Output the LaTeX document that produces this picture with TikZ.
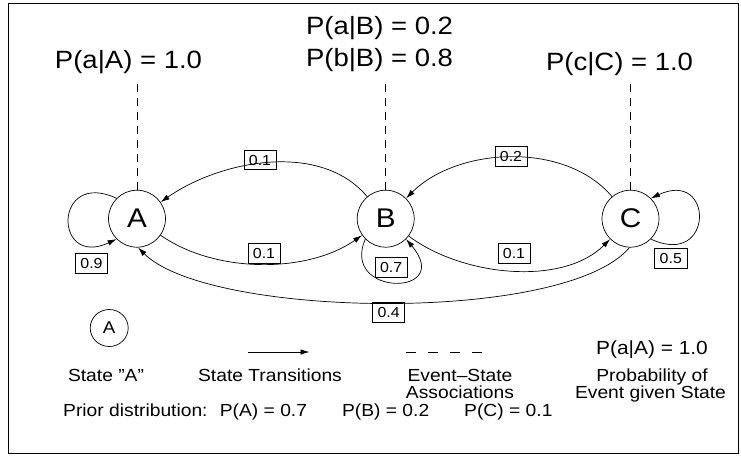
\documentclass[tikz,border=0pt]{standalone}
\usepackage{fontspec}
\setmainfont{Liberation Sans}[FakeStretch=1.1]
\usetikzlibrary{arrows.meta,shapes.geometric}
\begin{document}
\begin{tikzpicture}[x=1pt,y=-1pt,
  state/.style={circle,draw,line width=0.7pt,minimum size=57pt,inner sep=0pt,font=\fontsize{27}{27}\selectfont},
  legstate/.style={ellipse,draw,line width=0.7pt,minimum width=38pt,minimum height=37pt,inner sep=0pt,font=\fontsize{17}{17}\selectfont},
  prob/.style={draw,line width=0.6pt,inner xsep=5pt,inner ysep=4.5pt,text height=10.5pt,text depth=0pt,font=\fontsize{14.5}{14.5}\selectfont},
  biglabel/.style={anchor=base,inner sep=0pt,font=\fontsize{25}{25}\selectfont},
  leg/.style={anchor=base,inner sep=0pt,font=\fontsize{17.5}{17.5}\selectfont},
  trans/.style={line width=0.7pt,-{Latex[length=9pt,width=5.5pt]}},
  assoc/.style={line width=1pt,dash pattern=on 7.5pt off 6.5pt},
  legdash/.style={line width=1pt,dash pattern=on 10pt off 12pt}]
\useasboundingbox (0,0) rectangle (741,457);
\draw[line width=1pt] (8.7,4) rectangle (738.5,453.5);

% states
\node[state] (A) at (137,218.7) {A};
\node[state] (B) at (385.7,218.7) {B};
\node[state] (C) at (630.5,218.7) {C};

% event labels
\node[biglabel] (la) at (128.5,69) {P(a|A) = 1.0};
\node[biglabel] (lb1) at (379.5,35) {P(a|B) = 0.2};
\node[biglabel] (lb2) at (379.5,67) {P(b|B) = 0.8};
\node[biglabel] (lc) at (619.5,71) {P(c|C) = 1.0};
\coordinate (ta) at (137,83);
\coordinate (tb) at (385.7,83);
\coordinate (tc) at (630.5,83);
\draw[assoc] (A.north) -- (ta);
\draw[assoc] (B.north) -- (tb);
\draw[assoc] (C.north) -- (tc);

% transitions
\draw[trans] (B) to[out=130,in=35,looseness=0.9] (A);
\draw[trans] (C) to[out=130,in=45,looseness=0.9] (B);
\draw[trans] (A) to[out=-35,in=-145,looseness=0.85] (B);
\draw[trans] (B) to[out=-37,in=-135,looseness=0.85] (C);
\draw[trans] (C.-92) .. controls +(-130:100pt) and +(-45:100pt) .. (A.-88);
\draw[trans] (A.135) .. controls +(155:70pt) and +(205:70pt) .. (A.-135);
\draw[trans] (B.-135) .. controls (340,297) and (455,297) .. (B.-45);
\draw[trans] (C.-45) .. controls +(-25:70pt) and +(25:70pt) .. (C.45);

% probabilities
\node[prob] (p1) at (260,160) {0.1};
\node[prob] (p2) at (511,156.5) {0.2};
\node[prob] (p3) at (264,253.5) {0.1};
\node[prob] (p4) at (514,253.5) {0.1};
\node[prob] (p5) at (91.5,263.3) {0.9};
\node[prob] (p6) at (391.2,267.5) {0.7};
\node[prob] (p7) at (670.8,258.3) {0.5};
\node[prob] (p8) at (388.7,312.5) {0.4};

% legend
\node[legstate] (LA) at (109.2,328) {A};
\coordinate (t1) at (248,352);
\coordinate (t2) at (309.5,352);
\draw[trans] (t1) -- (t2);
\coordinate (d1) at (406,352);
\coordinate (d2) at (482,352);
\draw[legdash] (d1) -- (d2);
\node[leg] (g1) at (106,381) {State "A"};
\node[leg] (g2) at (270,381) {State Transitions};
\node[leg] (g3) at (460,381) {Event--State};
\node[leg] (g4) at (460,398) {Associations};
\node[leg,font=\fontsize{19}{19}\selectfont] (g5) at (652,354) {P(a|A) = 1.0};
\node[leg] (g6) at (652,381) {Probability of};
\node[leg] (g7) at (650.5,398) {Event given State};
\node[leg,anchor=base west] (g8) at (63,416) {Prior distribution:\hspace{0.7em}P(A) = 0.7\hspace{2em}P(B) = 0.2\hspace{2em}P(C) = 0.1};
\end{tikzpicture}
\end{document}
